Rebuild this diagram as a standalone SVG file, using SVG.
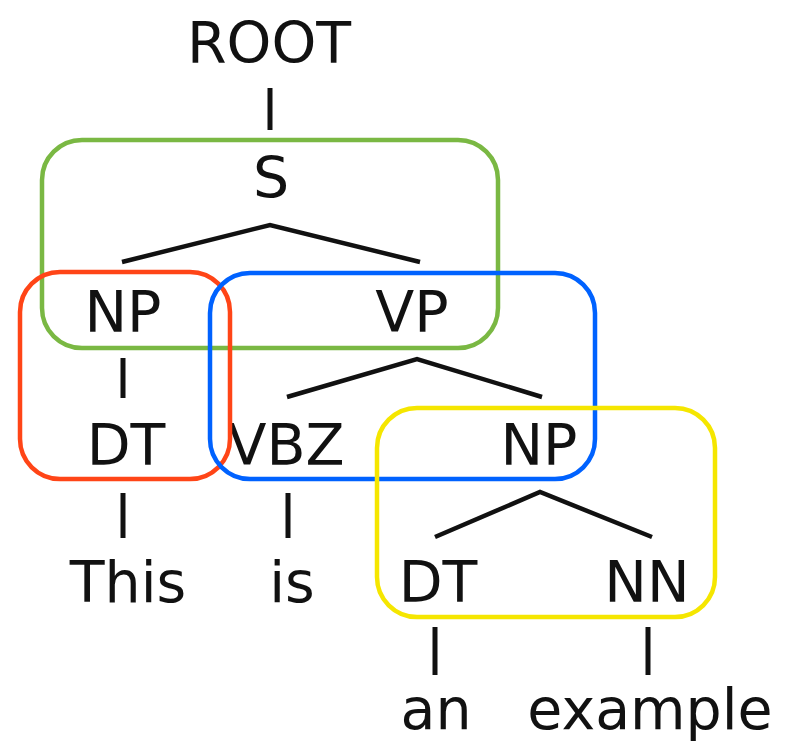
<svg xmlns="http://www.w3.org/2000/svg" width="785" height="744" viewBox="0 0 785 744">
<style>
text{font-family:"DejaVu Sans","Liberation Sans",sans-serif;font-size:57px;fill:#111;text-anchor:middle}
.e{stroke:#111;stroke-width:5;fill:none;stroke-linecap:butt}
.b{stroke:#111;stroke-width:4.5;fill:none}
.box{fill:none;stroke-width:4.5}
</style>
<rect width="785" height="744" fill="#fff"/>
<g id="connectors">
<line class="e" x1="270" y1="88" x2="270" y2="130"/>
<polyline class="b" points="122,262 270,225 420,262"/>
<line class="e" x1="123" y1="358" x2="123" y2="398"/>
<polyline class="b" points="287,397 417,359 542,397"/>
<line class="e" x1="123" y1="493" x2="123" y2="538"/>
<line class="e" x1="288" y1="493" x2="288" y2="538"/>
<polyline class="b" points="435,537 540,492 652,537"/>
<line class="e" x1="435" y1="627" x2="435" y2="675"/>
<line class="e" x1="648" y1="627" x2="648" y2="675"/>
</g>
<g id="ROOT"><text x="269" y="63">ROOT</text></g>
<g id="S"><text x="271" y="198">S</text></g>
<g id="NP1"><text x="123" y="332">NP</text></g>
<g id="VP"><text x="412" y="332">VP</text></g>
<g id="DT1"><text x="126" y="465">DT</text></g>
<g id="VBZ"><text x="286" y="465">VBZ</text></g>
<g id="NP2"><text x="539" y="465">NP</text></g>
<g id="This"><text x="128" y="602">This</text></g>
<g id="is"><text x="292" y="602">is</text></g>
<g id="DT2"><text x="438" y="602">DT</text></g>
<g id="NN"><text x="647" y="602">NN</text></g>
<g id="an"><text x="436" y="729">an</text></g>
<g id="example"><text x="650" y="729">example</text></g>
<g id="box-S"><rect class="box" x="42" y="140" width="456" height="208" rx="40" stroke="#7ab843"/></g>
<g id="box-NP1"><rect class="box" x="20" y="272" width="210" height="207" rx="40" stroke="#ff4517"/></g>
<g id="box-VP"><rect class="box" x="210" y="273" width="385" height="206" rx="40" stroke="#0062ff"/></g>
<g id="box-NP2"><rect class="box" x="377" y="408" width="338" height="209" rx="40" stroke="#f5e600"/></g>
</svg>
